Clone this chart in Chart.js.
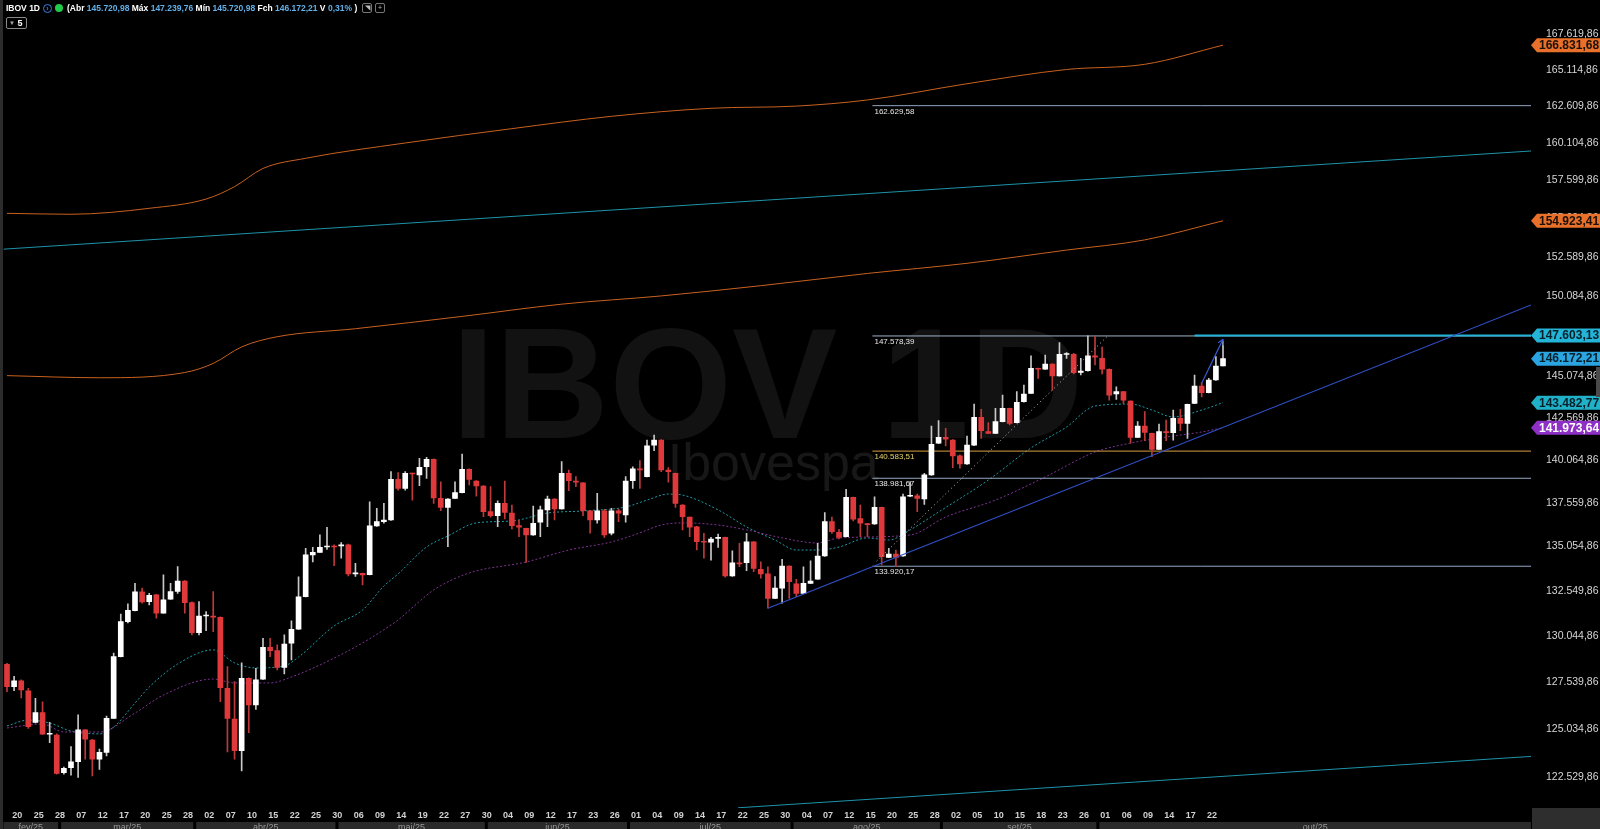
<!DOCTYPE html>
<html><head><meta charset="utf-8">
<script src="https://cdn.jsdelivr.net/npm/chart.js@4.4.1/dist/chart.umd.min.js"></script>
<style>
html,body{margin:0;padding:0;background:#000;overflow:hidden}
#wrap{position:relative;width:1600px;height:829px}
canvas{display:block}
#hdr{position:absolute;left:0;top:0;width:420px;height:30px;font-family:'Liberation Sans',Arial,sans-serif;font-weight:bold;font-size:8.5px;color:#fff;white-space:nowrap;line-height:10px}
#hdr .a{position:absolute}
#hdr .n{color:#62b0e8}
.ic1{position:absolute;left:43px;top:4px;width:7px;height:7px;border:1px solid #3d7ee0;border-radius:50%;color:#3d7ee0;font-size:7px;line-height:7px;text-align:center}
.ic2{position:absolute;left:55px;top:4px;width:8px;height:8px;background:#22c94a;border-radius:50%}
.btn{position:absolute;top:3px;width:8px;height:8px;border:1px solid #777;border-radius:2px;color:#bbb;font-size:7px;line-height:8px;text-align:center;font-weight:normal}
.box5{position:absolute;left:6px;top:17px;width:19px;height:10px;border:1px solid #888;border-radius:2px;font-size:9px;line-height:10px;color:#fff}
.box5 .t{color:#aaa;font-size:6px;margin-left:2px;vertical-align:top}
</style></head><body>
<div id="wrap"><canvas id="c" width="1600" height="829"></canvas>
<div id="hdr">
  <span class="a" style="left:6px;top:3px">IBOV 1D</span>
  <span class="ic1">›</span><span class="ic2"></span>
  <span class="a" id="ohlc" style="left:67px;top:3px"></span>
  <span class="btn" style="left:362px">◥</span><span class="btn" style="left:375px">+</span>
  <span class="box5"><span class="t">▼</span> 5</span>
</div>
</div>
<script>
// ---------------- DATA ----------------
const tradingDays = ['17/02','18/02','19/02','20/02','21/02','24/02','25/02','26/02','27/02','28/02',
'05/03','06/03','07/03','10/03','11/03','12/03','13/03','14/03','17/03','18/03','19/03','20/03','21/03','24/03','25/03','26/03','27/03','28/03','31/03',
'01/04','02/04','03/04','04/04','07/04','08/04','09/04','10/04','11/04','14/04','15/04','16/04','17/04','22/04','23/04','24/04','25/04','28/04','29/04','30/04',
'02/05','05/05','06/05','07/05','08/05','09/05','12/05','13/05','14/05','15/05','16/05','19/05','20/05','21/05','22/05','23/05','26/05','27/05','28/05','29/05','30/05',
'02/06','03/06','04/06','05/06','06/06','09/06','10/06','11/06','12/06','13/06','16/06','17/06','18/06','20/06','23/06','24/06','25/06','26/06','27/06','30/06',
'01/07','02/07','03/07','04/07','07/07','08/07','09/07','10/07','11/07','14/07','15/07','16/07','17/07','18/07','21/07','22/07','23/07','24/07','25/07','28/07','29/07','30/07','31/07',
'01/08','04/08','05/08','06/08','07/08','08/08','11/08','12/08','13/08','14/08','15/08','18/08','19/08','20/08','21/08','22/08','25/08','26/08','27/08','28/08','29/08',
'01/09','02/09','03/09','04/09','05/09','08/09','09/09','10/09','11/09','12/09','15/09','16/09','17/09','18/09','19/09','22/09','23/09','24/09','25/09','26/09','29/09','30/09',
'01/10','02/10','03/10','06/10','07/10','08/10','09/10','10/10','13/10','14/10','15/10','16/10','17/10','20/10','21/10','22/10'];

const monthNames = ['jan/25','fev/25','mar/25','abr/25','mai/25','jun/25','jul/25','ago/25','set/25','out/25','nov/25','dez/25'];

const open = [128500,127290,127600,127070,125390,125900,124760,124720,122750,123010,
123320,124990,124460,123460,123810,125600,128910,130830,131440,132480,
131940,132310,131300,132070,132500,133090,131880,130220,131140,131140,
131070,127200,125560,123900,127740,126310,127690,129420,129240,128330,
129640,130410,132210,134560,134710,135010,135070,135070,135130,133490,
133520,133450,136220,136460,136560,138920,138390,139270,139180,139660,
140100,137810,137290,137810,138140,139510,138820,138530,137040,136810,
137520,136950,136230,136080,135700,136430,137140,137770,137190,139270,
138820,138720,137090,136560,137090,135800,137090,136850,138840,139530,
139080,140940,141240,139470,139270,137420,136720,136170,135310,135280,
135500,135560,133370,134120,134120,135310,133740,133490,132120,132690,
133930,132930,132400,132960,133190,134500,136460,135850,135600,137870,
136640,136330,136330,137290,134420,134610,134500,137930,137960,137770,
139180,141050,141400,141240,140300,139820,140940,142600,141740,141640,
142340,143140,142280,143540,144050,145580,145520,145840,145110,146430,
146440,145330,145430,146340,146190,145520,144010,144150,143580,141400,
142080,141640,140690,141740,141680,142540,142240,143440,144490,144090,
144860,145720.98];

const high = [128550,127840,127650,127200,126660,126480,125390,124780,123050,124110,
125780,125010,124490,123980,125720,129100,131250,131810,132960,132690,
132400,132340,133430,132960,133900,133120,131920,131940,131380,132500,
131090,128370,127560,128580,127760,128280,129910,129910,129550,130100,
130870,133330,134940,134990,135700,136140,135130,135260,135180,134090,
133540,137610,137230,137520,139370,139310,139370,139290,140160,140220,
140120,138780,137800,138780,140410,139530,138850,138560,138490,137670,
138820,137420,136560,136100,137360,137360,137940,137790,139960,139470,
139080,138730,137100,138100,137170,137230,137170,139080,139660,140020,
141240,141540,141270,139610,139290,137450,136730,136190,135790,135560,
135750,135580,134800,135220,135790,135320,134170,133890,133340,134310,
133950,133190,133890,134230,135220,136980,136720,136020,138340,137880,
137420,136370,137900,137310,134940,134840,138060,138780,138060,139270,
142080,142400,141940,141270,140360,141480,143400,143080,142280,143140,
143940,143160,144150,144560,146340,145600,146400,145860,147160,146540,
146500,146190,147578.39,147550,146880,145540,144450,144160,143600,142340,
142940,141660,142200,142440,143040,143080,143400,145170,144700,144960,
146300,147239.76];

const low = [127020,127070,126680,125070,125360,124750,124320,122680,122680,122630,
122510,123450,122590,122930,123630,125590,128890,130760,131420,131850,
131750,131020,131290,132060,132400,131300,130100,130100,130330,130280,
126480,123840,123450,122850,124840,126080,127680,128910,128190,127970,
128730,130400,132200,134170,134700,134880,133950,134370,133370,133340,
132870,133430,136190,136370,136530,138290,138290,137710,138550,138980,
137520,137090,135030,137800,138120,138590,137940,136750,136720,136170,
136620,136040,135600,134140,135670,135600,136170,136560,137180,138250,
138490,136810,135800,136370,135560,135700,136460,136430,138390,138390,
139060,140610,139370,138750,137290,135990,135600,134840,134370,134270,
134990,133300,133340,133900,133670,133610,133250,131570,132110,131850,
132120,132210,132390,132950,133180,134470,135790,135470,135580,136500,
135600,135600,136300,133990,134410,133890,134480,137910,137040,137460,
139150,141030,140890,139610,139570,139790,140910,141340,141630,141630,
142320,142140,142260,143520,144040,144960,145510,144250,145090,146190,
145230,145170,145410,145780,145230,143640,143680,143440,141050,141390,
141200,140260,140680,141200,141240,141800,141340,143430,143840,144070,
144840,145720.98];

const close = [127290,127600,127110,125160,125900,124760,124800,122720,122980,123320,
124990,124500,123450,123810,125600,128910,130830,131450,132480,131920,
132290,131300,132030,132500,133090,131880,130220,131140,131150,131070,
127230,125600,123900,127740,126310,127650,129420,129240,128330,129600,
130410,132210,134560,134710,134990,135070,135010,135130,133490,133510,
133430,136220,136460,136560,138920,138390,139270,139230,139630,140100,
137840,137290,137770,138140,139510,138920,138530,137040,136810,137520,
137000,136230,136140,135700,136370,137140,137770,137190,139270,138840,
138750,137090,136560,137090,135700,137090,136950,138820,139530,139470,
140900,141240,139470,139370,137520,136750,136140,135310,135280,135470,
135560,133370,134120,134050,135310,133800,133490,132120,132690,133930,
133050,132400,132960,133090,134500,136460,135890,135560,137870,136600,
136370,136290,137290,134460,134610,134420,137900,137960,137810,139180,
140990,141400,141300,140300,139820,140940,142600,141800,141640,142340,
143140,142240,143500,144010,145580,145520,145840,145110,146440,146460,
145310,145410,146340,146260,145520,143940,144150,143640,141400,142080,
141700,140690,141740,141680,142540,142240,143380,144490,144090,144860,
145720.98,146172.21];

// moving averages: [candle index, value]
const emaCyan = [[0,125200],[3,125510],[6,125350],[9,124930],[13,124780],[15,125140],[18,126410],[20,127270],[24,128510],[29,129280],[32,128570],[35,128300],[39,128410],[41,128890],[46,130590],[50,131470],[53,132810],[55,133490],[59,135010],[62,135640],[66,136390],[71,136500],[76,136960],[81,137080],[87,137310],[90,137710],[93,138060],[95,138000],[100,137140],[104,136160],[108,135410],[111,134840],[114,134840],[117,135010],[121,135530],[124,135410],[127,135990],[131,137020],[138,138880],[144,140770],[149,142020],[153,143280],[158,143400],[161,143040],[164,142620],[168,143040],[171,143482.77]];
const smaPurple = [[0,125090],[5,125300],[8,124880],[13,124880],[18,125880],[22,126840],[29,127700],[32,127490],[37,127490],[40,127810],[44,128460],[50,129660],[54,130640],[55,130920],[58,131950],[60,132590],[65,133540],[73,134160],[79,134840],[85,135300],[89,135820],[92,136270],[95,136390],[100,136270],[104,135990],[109,135530],[114,135240],[117,135530],[127,135700],[132,136730],[139,137710],[146,139060],[153,140530],[158,141060],[163,141420],[168,141720],[171,141973.64]];
const bandUpper = [[0,155410],[9,155350],[20,155740],[28,156350],[32,157170],[36,158380],[42,159060],[56,160090],[71,161060],[85,161900],[99,162450],[111,162600],[121,163020],[135,164140],[149,165130],[160,165490],[171,166831.68]];
const bandLower = [[0,145130],[13,145000],[25,145320],[29,145880],[33,146900],[38,147530],[49,148030],[64,148800],[78,149570],[92,150090],[106,150740],[121,151520],[135,152170],[149,153020],[160,153680],[171,154923.41]];

// drawn lines: [candle index, value] end points
const channelUpper = [[-0.5,153080],[214.31,159550]];
const channelLower = [[102.8,120950],[214.31,123600]];
const supportLine = [[107,131570],[214.31,149520]];
const arrowLine = [[168,144660],[171,147370]];
const dottedLine = [[122.3,134210],[154.8,147580]];
const priceLine = [[167,147603.13],[214.31,147603.13]];
const levelValues = [162629.58,147578.39,140583.51,138981.67,133920.17];
const levelStartIdx = 121.7;
const badgeValues = [166831.68,154923.41,147603.13,146172.21,143482.77,141973.64];

const yTicks = [122529.86,125034.86,127539.86,130044.86,132549.86,135054.86,137559.86,140064.86,142569.86,145074.86,147579.86,150084.86,152589.86,155094.86,157599.86,160104.86,162609.86,165114.86,167619.86];
const X_MIN = -0.5, X_MAX = 214.31, Y_MIN = 120940, Y_MAX = 170040;

// ---------------- STYLE ----------------
const levelColors = ['#8fa6c0','#9fb2c6','#d9a040','#93a9c2','#93a9c2'];
const levelTextColors = ['#e6e6e6','#e6e6e6','#e8d46a','#e6e6e6','#e6e6e6'];
const badgeStyles = [
  {bg:'#e8702a', fg:'#1a1008'}, {bg:'#e8702a', fg:'#1a1008'},
  {bg:'#24b4d8', fg:'#06202a'}, {bg:'#2ba4e2', fg:'#06202a'},
  {bg:'#20b0c8', fg:'#06202a'}, {bg:'#8e2fc6', fg:'#ffffff'}];

function fmt(v){
  const s = Number(v).toFixed(2).split('.');
  return s[0].replace(/\B(?=(\d{3})+(?!\d))/g,'.') + ',' + s[1];
}

// header
(function(){
  const L = close.length - 1;
  const pct = (close[L]/close[L-1]-1)*100;
  document.getElementById('ohlc').innerHTML =
    '(Abr <span class="n">'+fmt(open[L])+'</span> Máx <span class="n">'+fmt(high[L])+
    '</span> Mín <span class="n">'+fmt(low[L])+'</span> Fch <span class="n">'+fmt(close[L])+
    '</span> V <span class="n">'+pct.toFixed(2).replace('.',',')+'%</span> )';
})();

const N = tradingDays.length;
const idx = tradingDays.map((_, i) => i);
const isUp = i => close[i] >= open[i];
const bodyData = idx.map(i => ({x:i, y:[open[i], close[i]]}));
const wickData = idx.map(i => ({x:i, y:[low[i], high[i]]}));
const pts = a => a.map(p => ({x:p[0], y:p[1]}));
const xTickIdx = idx.filter(i => i % 3 === 0 && i > 0);

function line(data, color, width, dash, order, extra){
  return Object.assign({type:'line', data:pts(data), borderColor:color, borderWidth:width,
    borderDash:dash||[], pointRadius:0, fill:false, tension:0, order}, extra||{});
}

const datasets = [
  line(bandUpper,'#c9611f',1,null,9,{cubicInterpolationMode:'monotone'}),
  line(bandLower,'#c9611f',1,null,9,{cubicInterpolationMode:'monotone'}),
  line(channelUpper,'#1e93a8',1,null,8),
  line(channelLower,'#1e93a8',1,null,8),
  line(smaPurple,'#7e3392',1,[2,2],7,{cubicInterpolationMode:'monotone'}),
  line(emaCyan,'#1f9aa6',1,[2,2],7,{cubicInterpolationMode:'monotone'}),
];
levelValues.forEach((v,k) => datasets.push(line([[levelStartIdx,v],[X_MAX,v]], levelColors[k], 1, null, 6)));
datasets.push(line(priceLine,'#22b4d8',2,null,5));
datasets.push({type:'bar', data:wickData, backgroundColor: idx.map(i => isUp(i)?'#c8c8c8':'#c0393a'),
  barThickness:1, grouped:false, borderWidth:0, minBarLength:1, order:4});
datasets.push({type:'bar', data:bodyData, backgroundColor: idx.map(i => isUp(i)?'#ffffff':'#e0393b'),
  barThickness:5, grouped:false, borderWidth:0, minBarLength:1, order:3});
datasets.push(line(supportLine,'#3050c8',1.2,null,1));
datasets.push(line(dottedLine,'#bdbdbd',1,[1,3],1));
const arrowDsIndex = datasets.length;
datasets.push(line(arrowLine,'#3a5ad6',1.2,null,1));

const deco = {
  id:'deco',
  beforeDraw(chart){
    const c = chart.ctx; c.save();
    c.fillStyle = '#000'; c.fillRect(0,0,chart.width,chart.height);
    c.fillStyle = '#2c2c2c'; c.fillRect(0,0,3,chart.height);
    c.restore();
  },
  beforeDatasetsDraw(chart){
    const c = chart.ctx, a = chart.chartArea; c.save();
    const cx = (a.left + a.right)/2;
    c.textAlign = 'center'; c.textBaseline = 'alphabetic';
    c.fillStyle = '#121212'; c.font = 'bold 158px "Liberation Sans"';
    c.fillText('IBOV 1D', cx, 438);
    c.fillStyle = '#171717'; c.font = '52px "Liberation Sans"';
    c.fillText('Ibovespa', cx + 6, 480);
    c.restore();
  },
  afterDatasetsDraw(chart){
    const c = chart.ctx, xs = chart.scales.x, ys = chart.scales.y; c.save();
    c.font = '8px "Liberation Sans"'; c.textAlign = 'left'; c.textBaseline = 'top';
    levelValues.forEach((v,k) => {
      c.fillStyle = levelTextColors[k];
      c.fillText(fmt(v), xs.getPixelForValue(levelStartIdx) + 2, ys.getPixelForValue(v) + 2);
    });
    const pts = chart.getDatasetMeta(arrowDsIndex).data;
    const p0 = pts[0], p1 = pts[pts.length-1];
    const ang = Math.atan2(p1.y - p0.y, p1.x - p0.x);
    c.strokeStyle = '#3a5ad6'; c.lineWidth = 1.2; c.beginPath();
    [0.5,-0.5].forEach(d => { c.moveTo(p1.x, p1.y); c.lineTo(p1.x - 6*Math.cos(ang+d), p1.y - 6*Math.sin(ang+d)); });
    c.stroke();
    c.restore();
  },
  afterDraw(chart){
    const c = chart.ctx, a = chart.chartArea, xs = chart.scales.x, ys = chart.scales.y; c.save();
    // month bands
    const starts = [];
    tradingDays.forEach((d,i) => { const m = +d.slice(3); if (!starts.length || starts[starts.length-1].m !== m) starts.push({m, i}); });
    c.font = '9px "Liberation Sans"'; c.textAlign = 'center'; c.textBaseline = 'top';
    starts.forEach((s,k) => {
      const x0 = Math.max(a.left, xs.getPixelForValue(s.i) - 17);
      const x1 = k < starts.length-1 ? xs.getPixelForValue(starts[k+1].i) - 20 : a.right;
      c.fillStyle = '#2a2a2a'; c.fillRect(x0, 822, x1 - x0, 8);
      c.fillStyle = '#9a9a9a'; c.fillText(monthNames[s.m-1], (x0+x1)/2, 823);
    });
    c.fillStyle = '#2e2e2e'; c.fillRect(a.right + 1, a.bottom, chart.width - a.right, chart.height - a.bottom);
    // price badges
    c.font = 'bold 12px "Liberation Sans"'; c.textAlign = 'left'; c.textBaseline = 'middle';
    badgeValues.forEach((v,k) => {
      const y = ys.getPixelForValue(v), x = a.right;
      c.fillStyle = badgeStyles[k].bg; c.beginPath();
      c.moveTo(x, y); c.lineTo(x+6, y-7); c.lineTo(chart.width, y-7); c.lineTo(chart.width, y+7); c.lineTo(x+6, y+7); c.closePath(); c.fill();
      c.fillStyle = badgeStyles[k].fg; c.fillText(fmt(v), x + 8, y + 0.5);
    });
    c.fillStyle = '#4a4a4a'; c.fillRect(chart.width - 4, 367, 4, 30);
    c.restore();
  }
};

new Chart(document.getElementById('c'), {
  type:'bar',
  data:{datasets},
  plugins:[deco],
  options:{
    responsive:false, animation:false, devicePixelRatio:1, events:[],
    layout:{padding:{left:3.44, top:0, right:0, bottom:0}},
    plugins:{legend:{display:false}, tooltip:{enabled:false}},
    scales:{
      x:{type:'linear', min:X_MIN, max:X_MAX, offset:false, bounds:'data',
        grid:{display:false, drawTicks:false}, border:{display:false},
        afterBuildTicks: s => { s.ticks = xTickIdx.map(v => ({value:v})); },
        afterFit: s => { s.height = 21; s.paddingLeft = 0; s.paddingRight = 0; },
        ticks:{autoSkip:false, maxRotation:0, minRotation:0, labelOffset:-11, padding:2,
          color:'#d2d2d2', font:{family:'Liberation Sans', size:9, weight:'bold'},
          callback: v => tradingDays[v] ? tradingDays[v].slice(0,2) : ''}
      },
      y:{type:'logarithmic', position:'right', min:Y_MIN, max:Y_MAX, bounds:'data',
        grid:{display:false, drawTicks:false}, border:{display:false},
        afterBuildTicks: s => { s.ticks = yTicks.map(v => ({value:v})); },
        afterFit: s => { s.width = 69; s.paddingTop = 0; s.paddingBottom = 0; },
        ticks:{autoSkip:false, padding:15, color:'#d6d6d6', font:{family:'Liberation Sans', size:10.5},
          callback: v => fmt(v)}
      }
    }
  }
});
</script>
</body></html>
